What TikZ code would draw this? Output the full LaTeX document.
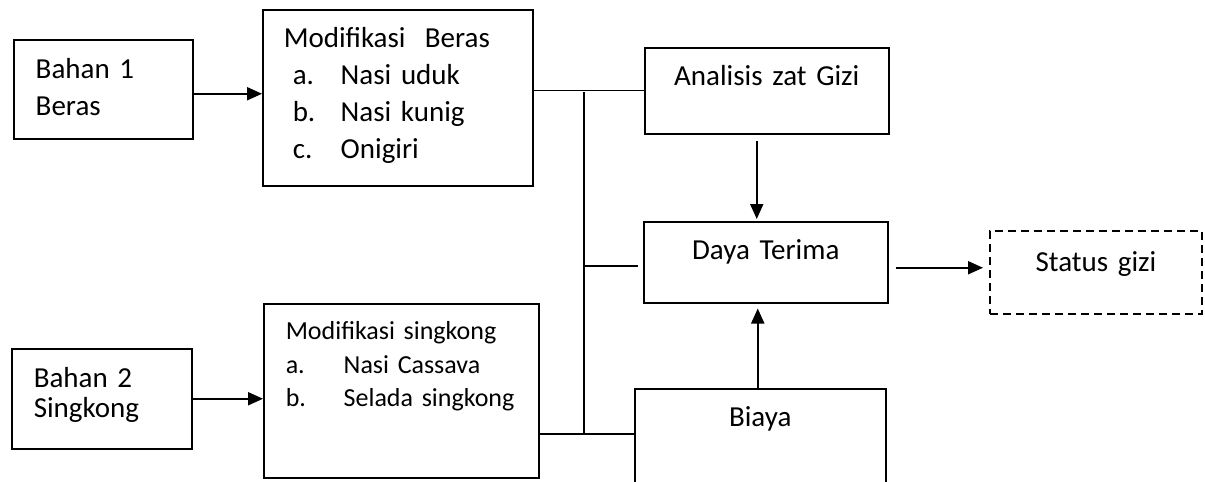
\documentclass[tikz,border=0pt]{standalone}
\usepackage{fontspec}
\setmainfont{Carlito}
\usetikzlibrary{arrows.meta}

\begin{document}
\begin{tikzpicture}[x=0.5pt,y=-0.5pt,
    box/.style={draw,line width=0.75pt,rectangle,anchor=north west,inner ysep=0pt},
    leftbox/.style={box,align=left},
    midbox/.style={box,align=center,inner xsep=0pt,font=\fontsize{14.5pt}{17pt}\selectfont},
    arr/.style={-{Triangle[length=7.5pt,width=6.5pt]},line width=1pt},
    bus/.style={line width=0.6pt}]
        % Page size of the figure
        \useasboundingbox (0,0) rectangle (1205,482);
        \clip (0,0) rectangle (1205,482);

        % Raw materials
        \node[leftbox,inner xsep=11pt,text width=67.5pt,text height=19.5pt,text depth=30pt,
              font=\fontsize{14.5pt}{18.5pt}\selectfont] (bahanA) at (13,39) {Bahan 1\\Beras};
        \node[leftbox,inner xsep=11pt,text width=68pt,text height=19.5pt,text depth=30.5pt,
              font=\fontsize{14.5pt}{15pt}\selectfont] (bahanB) at (11,348) {Bahan 2\\Singkong};

        % Modified products
        \node[leftbox,inner xsep=10.5pt,text width=114pt,text height=19pt,text depth=69pt,
              font=\fontsize{14.5pt}{18.5pt}\selectfont] (modBeras) at (262,9) {Modifikasi\ \ Beras\\
            \hspace*{4.5pt}\makebox[24pt][l]{a.}Nasi uduk\\
            \hspace*{4.5pt}\makebox[24pt][l]{b.}Nasi kunig\\
            \hspace*{4.5pt}\makebox[24pt][l]{c.}Onigiri};
        \node[leftbox,inner xsep=11pt,text width=115.5pt,text height=18pt,text depth=69pt,
              font=\fontsize{13pt}{16.75pt}\selectfont] (modSingkong) at (263,303) {Modifikasi singkong\\
            \mbox{\makebox[29pt][l]{a.}Nasi Cassava}\\
            \mbox{\makebox[29pt][l]{b.}Selada singkong}};

        % Outcome boxes
        \node[midbox,text width=122pt,text height=19pt,text depth=24pt] (gizi) at (644,47) {Analisis zat Gizi};
        \node[midbox,text width=122pt,text height=19pt,text depth=21.5pt] (daya) at (643,221) {Daya Terima};
        \node[midbox,dashed,dash pattern=on 4pt off 2.5pt,line width=1pt,text width=106pt,
              text height=20pt,text depth=21.5pt] (status) at (989,230) {Status gizi};
        \node[midbox,text width=125.5pt,text height=19pt,text depth=50pt] (biaya) at (634,388) {Biaya};

        % Bus joining both products
        \coordinate (busTop) at (584,90);
        \coordinate (busMid) at (584,266);
        \coordinate (busBot) at (584,434);
        \draw[bus] (modBeras.east |- gizi.west) -- (gizi.west);
        \draw[bus] ([yshift=-1pt]busTop) -- (busBot);
        \draw[bus] (modSingkong.east |- busBot) -- (biaya.west |- busBot);
        \draw[bus] (busMid) -- ([xshift=-2.5pt]daya.west |- busMid);

        % Arrows
        \draw[arr] ([yshift=-2.25pt]bahanA.east) -- ([yshift=-2.25pt]bahanA.east -| modBeras.west);
        \draw[arr] (bahanB.east) -- (bahanB.east -| modSingkong.west);
        \draw[arr] ([xshift=-5pt,yshift=-3pt]gizi.south) -- ([xshift=-5pt,yshift=1pt]gizi.south |- daya.north);
        \draw[arr] ([xshift=-1.25pt]biaya.north) -- ([xshift=-1.25pt,yshift=-2.5pt]biaya.north |- daya.south);
        \draw[arr] ([xshift=3.5pt,yshift=-2.75pt]daya.east) -- ([xshift=-3pt,yshift=-2.75pt]daya.east -| status.west);
    \end{tikzpicture}
\end{document}
